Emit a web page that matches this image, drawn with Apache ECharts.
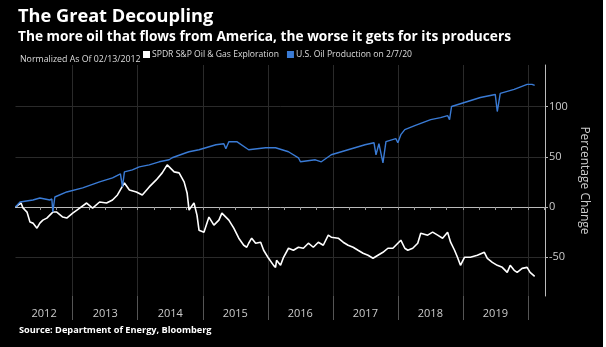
<!DOCTYPE html>
<html><head><meta charset="utf-8">
<script src="https://cdn.jsdelivr.net/npm/echarts@6/dist/echarts.min.js"></script>
<style>html,body{margin:0;padding:0;background:#fff;}#c{width:603px;height:347px;background:#000;}</style>
</head><body><div id="c"></div>
<script>
// Dates as decimal years
const xopYears = [2012.12,2012.159,2012.205,2012.235,2012.297,2012.343,2012.388,2012.450,2012.495,2012.541,2012.602,2012.648,2012.694,2012.755,2012.847,2012.908,2013.000,2013.107,2013.214,2013.306,2013.413,2013.520,2013.612,2013.688,2013.795,2013.872,2013.979,2014.070,2014.177,2014.284,2014.376,2014.453,2014.560,2014.636,2014.713,2014.759,2014.789,2014.865,2014.911,2014.942,2015.018,2015.095,2015.171,2015.248,2015.294,2015.401,2015.477,2015.554,2015.630,2015.676,2015.706,2015.752,2015.813,2015.890,2015.936,2016.012,2016.089,2016.119,2016.135,2016.196,2016.242,2016.318,2016.394,2016.471,2016.547,2016.624,2016.700,2016.777,2016.853,2016.930,2016.976,2017.083,2017.159,2017.235,2017.312,2017.388,2017.465,2017.541,2017.618,2017.694,2017.771,2017.847,2017.924,2018.000,2018.046,2018.107,2018.153,2018.229,2018.306,2018.352,2018.459,2018.535,2018.612,2018.688,2018.765,2018.811,2018.872,2018.917,2018.963,2019.024,2019.116,2019.223,2019.330,2019.376,2019.453,2019.529,2019.606,2019.682,2019.728,2019.789,2019.835,2019.911,2019.988,2020.034,2020.104];
const xopValues = [0,2,4,-1,-5,-15,-16,-21,-16,-13,-11,-8,-5,-5,-10,-11,-6,-1,4,-1,5,4,7,12,24,17,15,12,20,27,34,42,35,34,25,14,-3,4,-8,-23,-25,-10,-18,-13,-6,-13,-21,-31,-38,-40,-36,-31,-36,-35,-43,-51,-58,-60,-53,-58,-50,-41,-43,-40,-41,-36,-40,-35,-38,-28,-30,-31,-35,-38,-40,-43,-46,-48,-51,-48,-45,-41,-41,-36,-33,-41,-43,-41,-36,-26,-28,-25,-28,-31,-25,-35,-43,-50,-58,-50,-50,-48,-45,-51,-55,-58,-60,-65,-58,-63,-65,-61,-60,-65,-69];
const oilYears = [2012.12,2012.190,2012.388,2012.495,2012.648,2012.679,2012.694,2012.725,2012.908,2013.153,2013.413,2013.612,2013.734,2013.765,2013.795,2013.917,2014.024,2014.177,2014.330,2014.483,2014.529,2014.743,2014.789,2014.942,2015.202,2015.324,2015.355,2015.401,2015.523,2015.706,2015.966,2016.119,2016.318,2016.471,2016.502,2016.731,2016.823,2016.976,2017.235,2017.495,2017.633,2017.664,2017.709,2017.771,2017.817,2017.969,2018.000,2018.046,2018.107,2018.260,2018.505,2018.657,2018.765,2018.795,2018.826,2019.024,2019.269,2019.422,2019.498,2019.529,2019.575,2019.789,2019.988,2020.064,2020.104];
const oilValues = [0,5,7,9,7,8,-5,10,15,19,25,29,33,20,35,37,40,42,45,47,49,54,55,57,62,63,58,65,65,57,59,59,55,49,45,47,45,52,57,62,64,52,63,44,65,68,64,72,77,81,87,89,91,87,100,104,109,111,112,95,113,117,122,122,121];
const yearLabels = ['2012','2013','2014','2015','2016','2017','2018','2019'];
const yearLabelPos = [2012.56,2013.5,2014.5,2015.5,2016.5,2017.5,2018.5,2019.5];
const yearBounds = [2013,2014,2015,2016,2017,2018,2019,2020];
const yTickValues = [-50,0,50,100];

const quarterTicks = [];
for (let y = 2012.25; y < 2020.26; y += 0.25) quarterTicks.push(+y.toFixed(2));

const xMin = 2012.12, xMax = 2020.263;
const FONT = 'Open Sans';
const chart = echarts.init(document.getElementById('c'));
chart.setOption({
  backgroundColor: '#000',
  animation: false,
  title: [
    {text: 'The Great Decoupling', left: 13, top: 3, textStyle: {color: '#fff', fontSize: 18.2, fontWeight: 'bold', fontFamily: FONT}},
    {text: 'The more oil that flows from America, the worse it gets for its producers', left: 13, top: 25, textStyle: {color: '#fff', fontSize: 13.7, fontWeight: 'bold', fontFamily: FONT}},
    {text: 'Normalized As Of 02/13/2012', left: 15, top: 50, textStyle: {color: '#ddd', fontSize: 8.8, fontWeight: 'normal', fontFamily: FONT}},
    {text: 'Source: Department of Energy, Bloomberg', left: 14, top: 321, textStyle: {color: '#fff', fontSize: 9.2, fontWeight: 'bold', fontFamily: FONT}}
  ],
  legend: {
    left: 143, top: 50, icon: 'rect', itemWidth: 7, itemHeight: 7, itemGap: 8, padding: 0,
    textStyle: {color: '#ddd', fontSize: 8.6, fontFamily: FONT, padding: [0,0,0,-3]},
    data: ['SPDR S&P Oil & Gas Exploration', 'U.S. Oil Production on 2/7/20']
  },
  grid: {left: 15.5, right: 58, top: 65, bottom: 51},
  xAxis: [
    {
      type: 'value', position: 'bottom', min: xMin, max: xMax,
      axisLine: {show: true, lineStyle: {color: '#bbb', width: 1}},
      axisTick: {show: true, customValues: quarterTicks, length: 3, lineStyle: {color: '#999'}},
      axisLabel: {show: true, customValues: yearLabelPos, margin: 12, color: '#ccc', fontSize: 11, fontFamily: FONT,
        formatter: v => yearLabels[yearLabelPos.indexOf(v)]},
      splitLine: {show: false}
    },
    {
      type: 'value', position: 'bottom', min: xMin, max: xMax,
      axisLine: {show: false},
      axisTick: {show: true, customValues: yearBounds, length: 24, lineStyle: {color: '#555'}},
      axisLabel: {show: false},
      splitLine: {show: true, lineStyle: {color: '#2a2a2a', width: 1}}
    }
  ],
  yAxis: {
    type: 'value', position: 'right', min: -88.5, max: 141.3,
    name: 'Percentage Change', nameLocation: 'middle', nameRotate: -90, nameGap: 33,
    nameTextStyle: {color: '#ccc', fontSize: 12, fontFamily: FONT},
    axisLine: {show: true, lineStyle: {color: '#bbb', width: 1}},
    axisTick: {show: true, customValues: yTickValues, length: 3, lineStyle: {color: '#bbb'}},
    axisLabel: {show: true, customValues: yTickValues, margin: 4, color: '#ccc', fontSize: 11, fontFamily: FONT},
    splitLine: {show: true, lineStyle: {color: '#2a2a2a', width: 1}}
  },
  series: [
    {name: 'SPDR S&P Oil & Gas Exploration', type: 'line', showSymbol: false, xAxisIndex: 0,
     itemStyle: {color: '#ffffff'}, lineStyle: {color: '#ffffff', width: 1.6},
     data: xopYears.map((y, i) => [y, xopValues[i]])},
    {name: 'U.S. Oil Production on 2/7/20', type: 'line', showSymbol: false, xAxisIndex: 0,
     itemStyle: {color: '#3a7bd5'}, lineStyle: {color: '#3a7bd5', width: 1.4},
     data: oilYears.map((y, i) => [y, oilValues[i]])}
  ]
});
</script></body></html>
